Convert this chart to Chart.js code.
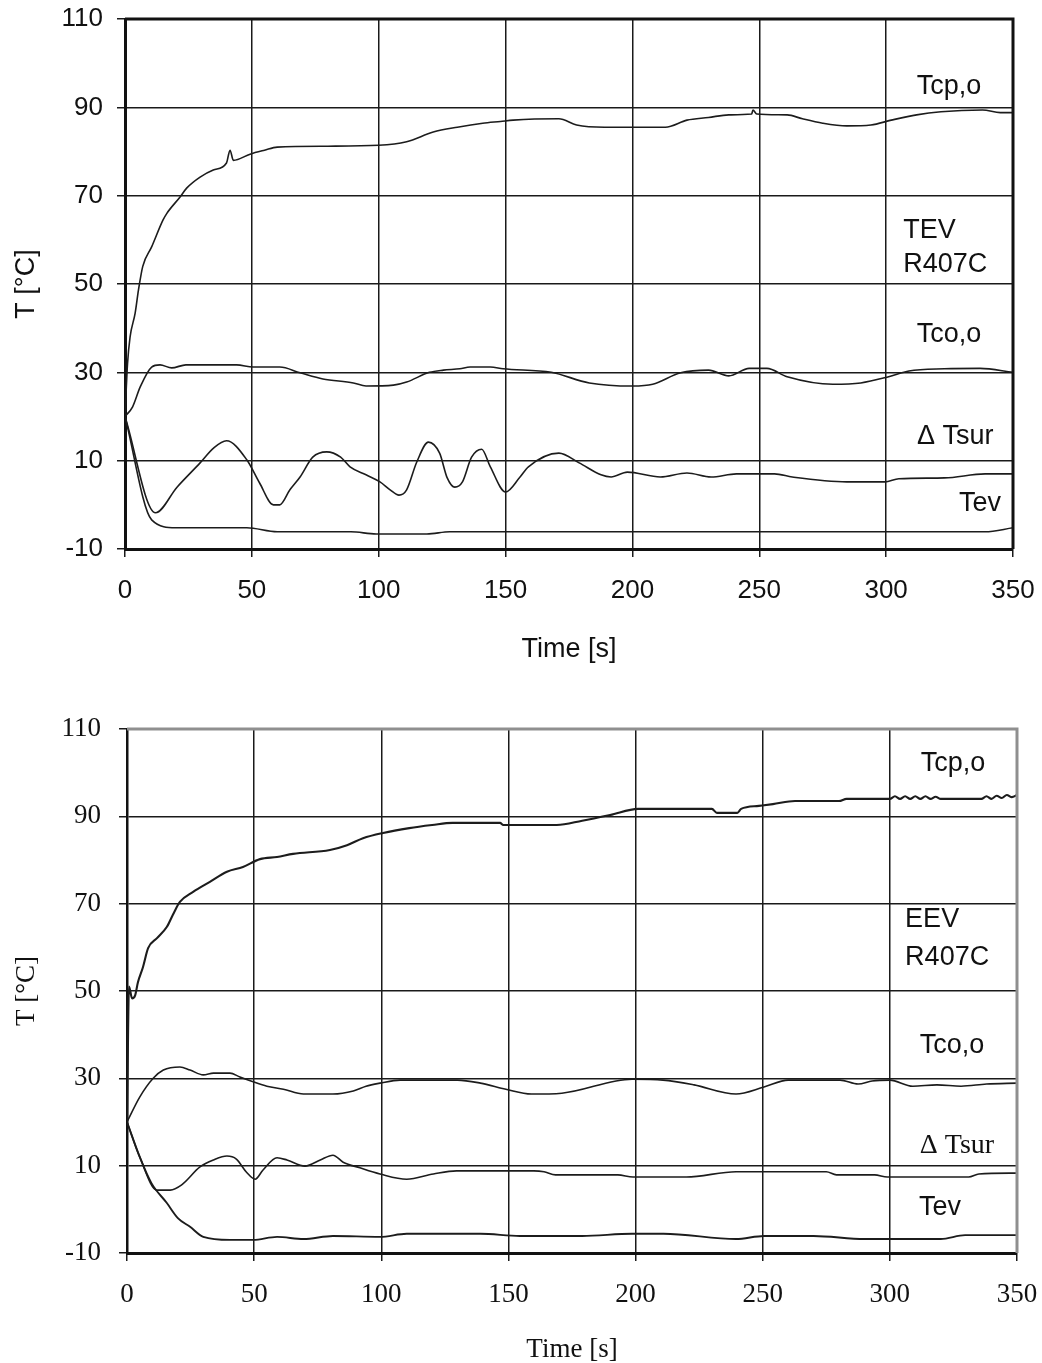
<!DOCTYPE html>
<html>
<head>
<meta charset="utf-8">
<title>TEV vs EEV start-up, R407C</title>
<script src="https://cdn.jsdelivr.net/npm/chart.js@4.4.1/dist/chart.umd.min.js"></script>
<style>
    html, body { margin: 0; padding: 0; background: #fff; }
    body { width: 1042px; height: 1363px; position: relative; overflow: hidden; }
    canvas { position: absolute; left: 0; }
    #tevChart { top: 0; }
    #eevChart { top: 700px; }
</style>
</head>
<body>
<canvas id="tevChart" width="1042" height="680"></canvas>
<canvas id="eevChart" width="1042" height="663"></canvas>
<script>
// ---- TEV R407C (upper panel) ----
const tevTcpTime = [0, 1, 2, 4, 5.3, 7, 10.5, 15, 16.5, 21.7, 24.3, 29.6, 34.8, 40, 41.4, 42.7, 49.3, 55, 60, 80, 100, 111, 121.5, 131, 141, 148, 153, 171, 178, 189, 213, 221.5, 230, 238, 247, 247.5, 249, 261, 267, 275, 284.5, 294, 302, 312, 321.6, 338, 345, 350];
const tevTcpVal  = [20, 32, 38, 43.4, 48.6, 54, 58.4, 64.5, 66, 69.7, 71.7, 74.2, 75.8, 77.4, 80.3, 78, 79.4, 80.3, 81, 81.2, 81.4, 82.2, 84.4, 85.5, 86.4, 86.8, 87.1, 87.4, 86, 85.5, 85.5, 87.1, 87.7, 88.3, 88.5, 89.4, 88.5, 88.3, 87.4, 86.4, 85.8, 86, 87.1, 88.3, 89, 89.4, 88.8, 88.8];

const tevTcoTime = [0, 3, 6, 10.5, 13.8, 18.4, 24, 44, 50.5, 61, 69, 78, 90, 95, 105.8, 111, 120, 125.5, 132, 136, 144, 149, 168, 183, 200, 208, 219, 230, 238, 246, 253, 261, 279, 290, 301, 309, 323, 337, 350];
const tevTcoVal  = [20, 22.2, 26.7, 31.2, 31.7, 31, 31.7, 31.7, 31.2, 31.2, 29.9, 28.5, 27.6, 26.9, 27.1, 27.8, 30, 30.5, 30.8, 31.2, 31.2, 30.8, 30, 27.6, 26.9, 27.3, 29.9, 30.5, 29.2, 30.9, 30.9, 29, 27.3, 27.6, 29, 30.3, 30.8, 30.9, 30];

const tevSurTime = [0, 12, 20.5, 29.6, 35, 40, 48, 53, 58.5, 61, 65, 69, 74, 79.5, 85, 88.7, 95, 100.5, 104.5, 108, 111, 115, 119.6, 124, 127, 130, 133, 136.6, 140.6, 144, 150, 155.7, 159, 171, 179, 187.6, 191.6, 198, 211, 221.5, 231, 241, 256, 263, 284.5, 299.5, 305, 323, 339, 350];
const tevSurVal  = [20, -1.8, 4, 9.5, 12.9, 14.5, 10.2, 5, 0, 0, 3.4, 6.3, 10.8, 12, 10.8, 8.6, 6.8, 5.2, 3.4, 2.2, 3.4, 9.7, 14.2, 11.7, 6.1, 4, 5.2, 10.8, 12.6, 8.6, 2.9, 6.3, 8.6, 11.7, 9.5, 6.8, 6.3, 7.4, 6.3, 7.2, 6.3, 7, 7, 6.3, 5.2, 5.2, 5.9, 6.1, 7, 7];

const tevEvTime = [0, 10.5, 20, 48, 60, 89, 99, 119, 128, 339, 350];
const tevEvVal  = [20, -3.4, -5.2, -5.2, -6.1, -6.1, -6.6, -6.6, -6.1, -6.1, -5.2];

const tevLabels = ['Tcp,o', 'TEV', 'R407C', 'Tco,o', '\u0394 Tsur', 'Tev'];

// ---- EEV R407C (lower panel) ----
const eevTcpTime = [0, 0.8, 2, 3.2, 4.3, 6.3, 8.3, 11.8, 15.7, 18, 20.8, 26, 32.6, 39.3, 45.6, 52.3, 59, 65.3, 79.8, 86.5, 92.8, 100.7, 111, 120, 128, 146.7, 148, 169, 179, 190, 201, 230, 232, 240, 241.5, 248.5, 254, 262.7, 280, 283, 300, 302, 304, 306, 308, 310, 312, 314, 316, 318, 320, 324, 336, 338, 340, 342, 344, 346, 348, 350];
const eevTcpVal  = [20, 51, 48.3, 49, 52, 55.5, 59.8, 62.1, 64.7, 67.4, 70.4, 72.7, 75, 77.3, 78.4, 80.2, 80.7, 81.4, 82.3, 83.4, 85, 86.2, 87.3, 88, 88.5, 88.5, 88, 88, 89, 90.3, 91.7, 91.7, 90.8, 90.8, 91.7, 92.4, 92.8, 93.5, 93.5, 94, 94, 94.6, 94, 94.6, 94, 94.6, 94, 94.6, 94, 94.5, 94, 94, 94, 94.6, 94, 94.7, 94.2, 94.9, 94.4, 94.9];

const eevTcoTime = [0, 5, 10.3, 14.3, 20.8, 24.8, 30, 34, 40.5, 44.4, 49.6, 55, 61.5, 69.4, 81, 89, 94, 99.5, 107.4, 130, 139, 149, 159, 171, 198.6, 210.8, 223, 239.5, 250.5, 260, 280.4, 287.5, 293, 300, 309, 318.5, 328, 338, 350];
const eevTcoVal  = [20, 25.7, 30, 31.9, 32.6, 31.9, 30.8, 31.2, 31.2, 30.3, 29.2, 28.2, 27.5, 26.4, 26.4, 27.1, 28.2, 28.9, 29.6, 29.6, 28.9, 27.5, 26.4, 26.6, 29.8, 29.6, 28.5, 26.4, 28, 29.6, 29.6, 28.7, 29.4, 29.6, 28.2, 28.5, 28.2, 28.7, 28.9];

const eevSurTime = [0, 5, 11.8, 17, 21.5, 28.7, 34, 39.3, 43, 47, 50.4, 53.5, 59, 62.9, 70, 76, 81, 85, 91.6, 99.5, 110, 120.5, 129.6, 160, 164, 168.5, 193, 199, 220, 239.5, 275, 279, 294, 299, 331, 335, 350];
const eevSurVal  = [20, 12, 4.4, 4.4, 5.6, 9.7, 11.3, 12.2, 11.5, 8.5, 6.9, 9, 11.8, 11.3, 9.9, 11.3, 12.4, 10.8, 9.5, 8.1, 6.9, 8.1, 8.8, 8.8, 8.6, 7.9, 7.9, 7.4, 7.4, 8.6, 8.6, 7.9, 7.9, 7.4, 7.4, 8.1, 8.3];

const eevEvTime = [0, 5, 9.6, 15.6, 20, 24.8, 30, 40.5, 49.6, 59, 69.4, 81, 99.5, 110, 139, 154.5, 179, 198.6, 211, 239.5, 250.5, 270, 290, 320, 329.6, 350];
const eevEvVal  = [20, 12, 6, 1.5, -2, -4, -6.3, -7, -7, -6.3, -6.8, -6.1, -6.3, -5.6, -5.6, -6.1, -6.1, -5.6, -5.6, -6.8, -6.1, -6.1, -6.8, -6.8, -5.9, -5.9];

const eevLabels = ['Tcp,o', 'EEV', 'R407C', 'Tco,o', '\u0394 Tsur', 'Tev'];

const SANS = '"Liberation Sans", Arial, sans-serif';
const SERIF = '"Liberation Serif", "Times New Roman", serif';

function points(ts, vs) {
    return ts.map((t, i) => ({ x: t, y: vs[i] }));
}

function line(ts, vs, width) {
    return {
        data: points(ts, vs),
        borderColor: '#1c1c1c',
        borderWidth: width,
        pointRadius: 0,
        fill: false,
        cubicInterpolationMode: 'monotone'
    };
}

// top + right edges of the plot box
const framePlugin = {
    id: 'frame',
    afterDatasetsDraw(chart, args, opts) {
        const { ctx, chartArea: a } = chart;
        ctx.save();
        ctx.strokeStyle = opts.color;
        ctx.lineWidth = opts.width;
        ctx.beginPath();
        ctx.moveTo(a.left, a.top);
        ctx.lineTo(a.right, a.top);
        ctx.lineTo(a.right, a.bottom);
        ctx.stroke();
        ctx.restore();
    }
};

// curve names written inside the plot, placed with the chart's scales
const curveLabelPlugin = {
    id: 'curveLabels',
    afterDatasetsDraw(chart, args, opts) {
        const { ctx, scales } = chart;
        ctx.save();
        ctx.fillStyle = '#111';
        ctx.textBaseline = 'middle';
        opts.items.forEach(item => {
            ctx.font = item.font;
            ctx.textAlign = item.align || 'center';
            ctx.fillText(item.text, scales.x.getPixelForValue(item.t), scales.y.getPixelForValue(item.v));
        });
        ctx.restore();
    }
};

function makeChart(id, p) {
    const ctx = document.getElementById(id).getContext('2d');
    return new Chart(ctx, {
        type: 'line',
        data: { datasets: p.datasets },
        plugins: [framePlugin, curveLabelPlugin],
        options: {
            responsive: false,
            animation: false,
            events: [],
            layout: { padding: { top: p.padTop, right: p.padRight, left: 0, bottom: 0 } },
            plugins: {
                legend: { display: false },
                tooltip: { enabled: false },
                frame: { color: p.frameColor, width: 3 },
                curveLabels: { items: p.labels }
            },
            scales: {
                x: {
                    type: 'linear',
                    min: 0,
                    max: 350,
                    ticks: { stepSize: 50, color: '#111', padding: p.xTickPad, maxRotation: 0,
                             font: { family: p.tickFamily, size: p.tickSize } },
                    grid: { color: '#1a1a1a', lineWidth: 1.5, tickLength: 8, tickColor: '#1a1a1a', tickWidth: 1.5 },
                    border: { color: '#111', width: 3 },
                    title: { display: true, text: 'Time [s]', color: '#111',
                             font: { family: p.tickFamily, size: 27, lineHeight: 1 },
                             padding: { top: 0, bottom: p.xTitlePad } },
                    afterFit: s => {
                        s.height = p.xAxisHeight;
                        s.paddingLeft = 0;
                        s.paddingRight = 0;
                    }
                },
                y: {
                    min: -10,
                    max: 110,
                    ticks: { stepSize: 20, color: '#111', padding: p.yTickPad,
                             font: { family: p.tickFamily, size: p.tickSize } },
                    grid: { color: '#1a1a1a', lineWidth: 1.5, tickLength: 8, tickColor: '#1a1a1a', tickWidth: 1.5 },
                    border: { color: '#111', width: p.yBorder },
                    title: { display: true, text: 'T [\u00b0C]', color: '#111',
                             font: { family: p.tickFamily, size: 27, lineHeight: 1 },
                             padding: { top: 13, bottom: 0 } },
                    afterFit: s => {
                        s.width = p.yAxisWidth;
                        s.paddingTop = 0;
                        s.paddingBottom = 0;
                    }
                }
            }
        }
    });
}

const sansLabel = '27px ' + SANS;
const serifLabel = '28px ' + SERIF;

// TEV chart
makeChart('tevChart', {
    datasets: [
        line(tevTcpTime, tevTcpVal, 1.6),
        line(tevTcoTime, tevTcoVal, 1.6),
        line(tevSurTime, tevSurVal, 1.6),
        line(tevEvTime, tevEvVal, 1.6)
    ],
    labels: [
        { text: tevLabels[0], t: 324.8, v: 94.6, font: sansLabel },
        { text: tevLabels[1], t: 306.7, v: 62.2, font: sansLabel, align: 'left' },
        { text: tevLabels[2], t: 306.7, v: 54.3, font: sansLabel, align: 'left' },
        { text: tevLabels[3], t: 324.8, v: 38.5, font: sansLabel },
        { text: tevLabels[4], t: 327.2, v: 15.4, font: sansLabel },
        { text: tevLabels[5], t: 337, v: 0.4, font: sansLabel }
    ],
    padTop: 19,
    padRight: 29,
    xAxisHeight: 131,
    yAxisWidth: 125,
    xTickPad: 18,
    yTickPad: 14,
    xTitlePad: 17,
    yBorder: 3,
    tickFamily: SANS,
    tickSize: 26,
    frameColor: '#111'
});

// EEV chart
makeChart('eevChart', {
    datasets: [
        line(eevTcpTime, eevTcpVal, 2.1),
        line(eevTcoTime, eevTcoVal, 1.6),
        line(eevSurTime, eevSurVal, 1.6),
        line(eevEvTime, eevEvVal, 1.9)
    ],
    labels: [
        { text: eevLabels[0], t: 324.8, v: 102.2, font: sansLabel },
        { text: eevLabels[1], t: 306, v: 66.3, font: sansLabel, align: 'left' },
        { text: eevLabels[2], t: 306, v: 57.6, font: sansLabel, align: 'left' },
        { text: eevLabels[3], t: 324.4, v: 37.6, font: sansLabel },
        { text: eevLabels[4], t: 326.4, v: 14.7, font: serifLabel },
        { text: eevLabels[5], t: 319.7, v: 0.5, font: sansLabel }
    ],
    padTop: 29,
    padRight: 25,
    xAxisHeight: 110,
    yAxisWidth: 127,
    xTickPad: 18,
    yTickPad: 18,
    xTitlePad: 0,
    yBorder: 2.5,
    tickFamily: SERIF,
    tickSize: 27,
    frameColor: '#8f8f8f'
});
</script>
</body>
</html>
